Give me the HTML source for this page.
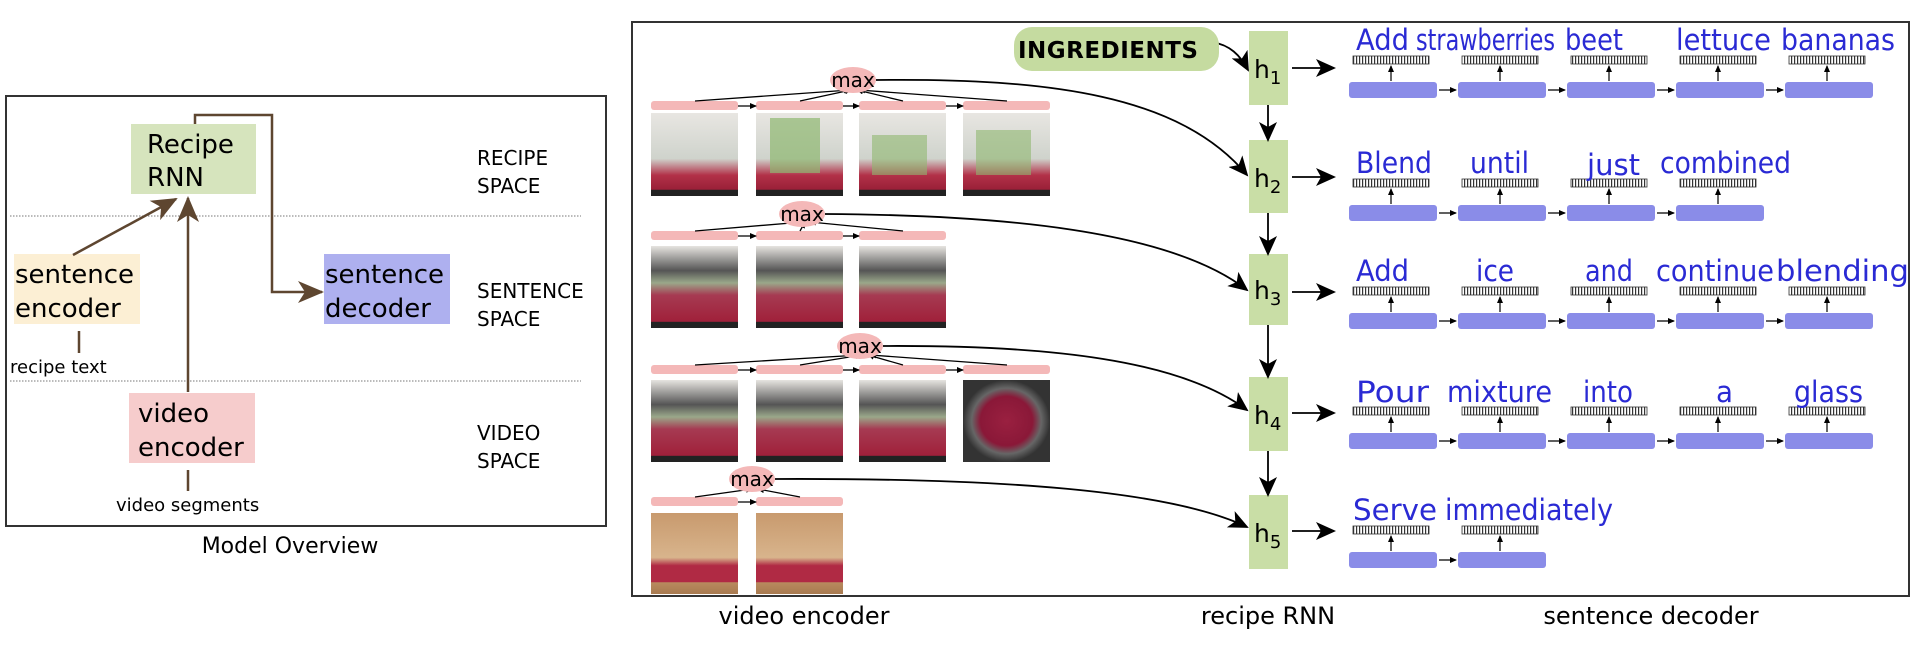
<!DOCTYPE html>
<html><head><meta charset="utf-8"><style>
html,body{margin:0;padding:0;background:#fff;}
svg{display:block;}
text{font-family:"DejaVu Sans","Liberation Sans",sans-serif;}
.w text{fill:#2a2ad4;font-size:29px;}
</style></head><body>
<svg width="1930" height="654" viewBox="0 0 1930 654" xmlns="http://www.w3.org/2000/svg">
<defs>
<pattern id="st" width="3" height="10" patternUnits="userSpaceOnUse"><rect width="3" height="10" fill="#fff"/><rect width="1.2" height="10" fill="#333"/></pattern>
<marker id="abs" markerWidth="7" markerHeight="6" refX="6" refY="3" orient="auto" markerUnits="userSpaceOnUse"><path d="M0,0 L7,3 L0,6z" fill="#000"/></marker>
<marker id="big" markerWidth="20" markerHeight="18" refX="18" refY="9" orient="auto" markerUnits="userSpaceOnUse"><path d="M0,0 L20,9 L0,18 L5,9z" fill="#000"/></marker>
<marker id="br" markerWidth="26" markerHeight="22" refX="24" refY="11" orient="auto" markerUnits="userSpaceOnUse"><path d="M0,0 L26,11 L0,22 L7,11z" fill="#5e4630"/></marker>
<linearGradient id="blend" x1="0" y1="0" x2="0" y2="1"><stop offset="0" stop-color="#e8e6e2"/><stop offset="0.55" stop-color="#cfd3cc"/><stop offset="0.75" stop-color="#b23148"/><stop offset="0.92" stop-color="#9a2038"/><stop offset="0.93" stop-color="#222"/><stop offset="1" stop-color="#222"/></linearGradient>
<linearGradient id="blend2" x1="0" y1="0" x2="0" y2="1"><stop offset="0" stop-color="#e6e4e0"/><stop offset="0.3" stop-color="#555"/><stop offset="0.45" stop-color="#9aa88a"/><stop offset="0.6" stop-color="#a63a52"/><stop offset="0.92" stop-color="#a0203a"/><stop offset="0.93" stop-color="#222"/><stop offset="1" stop-color="#222"/></linearGradient>
<linearGradient id="glass" x1="0" y1="0" x2="0" y2="1"><stop offset="0" stop-color="#c89a6e"/><stop offset="0.55" stop-color="#d8b48c"/><stop offset="0.65" stop-color="#b02a44"/><stop offset="0.85" stop-color="#b02a44"/><stop offset="0.86" stop-color="#b88a5e"/><stop offset="1" stop-color="#a87a50"/></linearGradient>
<radialGradient id="swirl"><stop offset="0" stop-color="#9a2040"/><stop offset="0.6" stop-color="#8a1838"/><stop offset="0.8" stop-color="#666"/><stop offset="1" stop-color="#333"/></radialGradient>
</defs>

<!-- LEFT PANEL -->
<rect x="6" y="96" width="600" height="430" fill="none" stroke="#333" stroke-width="2"/>
<line x1="10" y1="216" x2="581" y2="216" stroke="#777" stroke-width="1" stroke-dasharray="1.5,1.5"/>
<line x1="10" y1="381" x2="581" y2="381" stroke="#777" stroke-width="1" stroke-dasharray="1.5,1.5"/>
<rect x="131" y="124" width="125" height="70" fill="#d6e4bd"/>
<text x="147" y="153" font-size="26">Recipe</text>
<text x="147" y="186" font-size="26">RNN</text>
<rect x="14" y="254" width="126" height="70" fill="#fcefd4"/>
<text x="15" y="283" font-size="26">sentence</text>
<text x="15" y="317" font-size="26">encoder</text>
<rect x="324" y="254" width="126" height="70" fill="#aeb0ef"/>
<text x="325" y="283" font-size="26">sentence</text>
<text x="325" y="317" font-size="26">decoder</text>
<rect x="129" y="393" width="126" height="70" fill="#f6cccc"/>
<text x="138" y="422" font-size="26">video</text>
<text x="138" y="456" font-size="26">encoder</text>
<g font-size="20">
<text x="477" y="165">RECIPE</text><text x="477" y="193">SPACE</text>
<text x="477" y="298">SENTENCE</text><text x="477" y="326">SPACE</text>
<text x="477" y="440">VIDEO</text><text x="477" y="468">SPACE</text>
</g>
<line x1="79" y1="331" x2="79" y2="353" stroke="#5e4630" stroke-width="2.5"/>
<text x="10" y="373" font-size="18">recipe text</text>
<line x1="188" y1="470" x2="188" y2="491" stroke="#5e4630" stroke-width="2.5"/>
<text x="116" y="511" font-size="18">video segments</text>
<line x1="73" y1="255" x2="176" y2="199" stroke="#5e4630" stroke-width="2.5" marker-end="url(#br)"/>
<line x1="188" y1="392" x2="188" y2="198" stroke="#5e4630" stroke-width="2.5" marker-end="url(#br)"/>
<polyline points="195,124 195,115 272,115 272,292 322,292" fill="none" stroke="#5e4630" stroke-width="2.5" marker-end="url(#br)"/>
<text x="290" y="553" font-size="22" text-anchor="middle">Model Overview</text>

<!-- RIGHT PANEL -->
<rect x="632" y="22" width="1277" height="574" fill="none" stroke="#333" stroke-width="2"/>

<g>
<g fill="#f4b8b8">
<rect x="651" y="101" width="87" height="9" rx="3"/><rect x="756" y="101" width="87" height="9" rx="3"/><rect x="859" y="101" width="87" height="9" rx="3"/><rect x="963" y="101" width="87" height="9" rx="3"/>
<rect x="651" y="231" width="87" height="9" rx="3"/><rect x="756" y="231" width="87" height="9" rx="3"/><rect x="859" y="231" width="87" height="9" rx="3"/>
<rect x="651" y="365" width="87" height="9" rx="3"/><rect x="756" y="365" width="87" height="9" rx="3"/><rect x="859" y="365" width="87" height="9" rx="3"/><rect x="963" y="365" width="87" height="9" rx="3"/>
<rect x="651" y="497" width="87" height="9" rx="3"/><rect x="756" y="497" width="87" height="9" rx="3"/>
</g>
<rect x="651" y="113" width="87" height="83" fill="url(#blend)"/><rect x="756" y="113" width="87" height="83" fill="url(#blend)"/><rect x="859" y="113" width="87" height="83" fill="url(#blend)"/><rect x="963" y="113" width="87" height="83" fill="url(#blend)"/>
<rect x="770" y="118" width="50" height="55" fill="#8fb870" opacity="0.7"/><rect x="872" y="135" width="55" height="40" fill="#8fb870" opacity="0.6"/><rect x="976" y="130" width="55" height="45" fill="#8fb870" opacity="0.6"/>
<rect x="651" y="246" width="87" height="82" fill="url(#blend2)"/><rect x="756" y="246" width="87" height="82" fill="url(#blend2)"/><rect x="859" y="246" width="87" height="82" fill="url(#blend2)"/>
<rect x="651" y="380" width="87" height="82" fill="url(#blend2)"/><rect x="756" y="380" width="87" height="82" fill="url(#blend2)"/><rect x="859" y="380" width="87" height="82" fill="url(#blend2)"/>
<rect x="963" y="380" width="87" height="82" fill="url(#swirl)"/>
<rect x="651" y="513" width="87" height="81" fill="url(#glass)"/><rect x="756" y="513" width="87" height="81" fill="url(#glass)"/>
</g>

<g stroke="#000" stroke-width="1.3" fill="none">
<path d="M695,101 L850,90" marker-end="url(#abs)"/><path d="M800,101 L851,90" marker-end="url(#abs)"/><path d="M903,101 L857,90" marker-end="url(#abs)"/><path d="M1007,101 L859,90" marker-end="url(#abs)"/>
<path d="M738,106 L756,106" marker-end="url(#abs)"/><path d="M843,106 L859,106" marker-end="url(#abs)"/><path d="M946,106 L963,106" marker-end="url(#abs)"/>
<path d="M695,231 L803,222" marker-end="url(#abs)"/><path d="M800,231 L805,222" marker-end="url(#abs)"/><path d="M903,231 L810,222" marker-end="url(#abs)"/>
<path d="M738,236 L756,236" marker-end="url(#abs)"/><path d="M843,236 L859,236" marker-end="url(#abs)"/>
<path d="M695,365 L860,355" marker-end="url(#abs)"/><path d="M800,365 L862,355" marker-end="url(#abs)"/><path d="M903,365 L868,355" marker-end="url(#abs)"/><path d="M1007,365 L870,355" marker-end="url(#abs)"/>
<path d="M738,370 L756,370" marker-end="url(#abs)"/><path d="M843,370 L859,370" marker-end="url(#abs)"/><path d="M946,370 L963,370" marker-end="url(#abs)"/>
<path d="M695,497 L752,489" marker-end="url(#abs)"/><path d="M800,497 L758,489" marker-end="url(#abs)"/>
<path d="M738,502 L756,502" marker-end="url(#abs)"/>
</g>
<g fill="#f4b8b8">
<ellipse cx="853" cy="80" rx="23" ry="13"/><ellipse cx="802" cy="214" rx="23" ry="13"/><ellipse cx="860" cy="346" rx="23" ry="13"/><ellipse cx="752" cy="479" rx="23" ry="13"/>
</g>
<g font-size="20" text-anchor="middle">
<text x="853" y="87">max</text><text x="802" y="221">max</text><text x="860" y="353">max</text><text x="752" y="486">max</text>
</g>
<g stroke="#000" stroke-width="1.8" fill="none">
<path d="M876,80 C1050,78 1180,95 1247,175" marker-end="url(#big)"/>
<path d="M825,214 C1000,215 1170,230 1247,290" marker-end="url(#big)"/>
<path d="M883,346 C1050,345 1180,360 1247,410" marker-end="url(#big)"/>
<path d="M775,479 C1000,478 1170,490 1247,527" marker-end="url(#big)"/>
<path d="M1212,42 C1230,45 1240,55 1248,70" marker-end="url(#big)"/>
</g>

<rect x="1014" y="27" width="205" height="44" rx="18" fill="#c5dba0"/>
<text x="1018" y="58" font-size="23" font-weight="bold" letter-spacing="0.5">INGREDIENTS</text>

<g fill="#c9dea6">
<rect x="1249" y="31" width="39" height="74"/><rect x="1249" y="140" width="39" height="73"/><rect x="1249" y="254" width="39" height="71"/><rect x="1249" y="377" width="39" height="74"/><rect x="1249" y="495" width="39" height="74"/>
</g>
<g font-size="25">
<text x="1254" y="78">h<tspan font-size="18" dy="6">1</tspan></text>
<text x="1254" y="187">h<tspan font-size="18" dy="6">2</tspan></text>
<text x="1254" y="299">h<tspan font-size="18" dy="6">3</tspan></text>
<text x="1254" y="424">h<tspan font-size="18" dy="6">4</tspan></text>
<text x="1254" y="542">h<tspan font-size="18" dy="6">5</tspan></text>
</g>
<g stroke="#000" stroke-width="1.8">
<line x1="1268" y1="105" x2="1268" y2="140" marker-end="url(#big)"/>
<line x1="1268" y1="213" x2="1268" y2="254" marker-end="url(#big)"/>
<line x1="1268" y1="325" x2="1268" y2="377" marker-end="url(#big)"/>
<line x1="1268" y1="451" x2="1268" y2="495" marker-end="url(#big)"/>
<line x1="1292" y1="68" x2="1334" y2="68" marker-end="url(#big)"/>
<line x1="1292" y1="177" x2="1334" y2="177" marker-end="url(#big)"/>
<line x1="1292" y1="292" x2="1334" y2="292" marker-end="url(#big)"/>
<line x1="1292" y1="413" x2="1334" y2="413" marker-end="url(#big)"/>
<line x1="1292" y1="531" x2="1334" y2="531" marker-end="url(#big)"/>
</g>

<g fill="#8a8ce8">
<rect x="1349" y="82" width="88" height="16" rx="3"/><rect x="1458" y="82" width="88" height="16" rx="3"/><rect x="1567" y="82" width="88" height="16" rx="3"/><rect x="1676" y="82" width="88" height="16" rx="3"/><rect x="1785" y="82" width="88" height="16" rx="3"/>
<rect x="1349" y="205" width="88" height="16" rx="3"/><rect x="1458" y="205" width="88" height="16" rx="3"/><rect x="1567" y="205" width="88" height="16" rx="3"/><rect x="1676" y="205" width="88" height="16" rx="3"/>
<rect x="1349" y="313" width="88" height="16" rx="3"/><rect x="1458" y="313" width="88" height="16" rx="3"/><rect x="1567" y="313" width="88" height="16" rx="3"/><rect x="1676" y="313" width="88" height="16" rx="3"/><rect x="1785" y="313" width="88" height="16" rx="3"/>
<rect x="1349" y="433" width="88" height="16" rx="3"/><rect x="1458" y="433" width="88" height="16" rx="3"/><rect x="1567" y="433" width="88" height="16" rx="3"/><rect x="1676" y="433" width="88" height="16" rx="3"/><rect x="1785" y="433" width="88" height="16" rx="3"/>
<rect x="1349" y="552" width="88" height="16" rx="3"/><rect x="1458" y="552" width="88" height="16" rx="3"/>
</g>
<g fill="url(#st)" stroke="#333" stroke-width="0.8">
<rect x="1353" y="56" width="76" height="8"/><rect x="1462" y="56" width="76" height="8"/><rect x="1571" y="56" width="76" height="8"/><rect x="1680" y="56" width="76" height="8"/><rect x="1789" y="56" width="76" height="8"/>
<rect x="1353" y="179" width="76" height="8"/><rect x="1462" y="179" width="76" height="8"/><rect x="1571" y="179" width="76" height="8"/><rect x="1680" y="179" width="76" height="8"/>
<rect x="1353" y="287" width="76" height="8"/><rect x="1462" y="287" width="76" height="8"/><rect x="1571" y="287" width="76" height="8"/><rect x="1680" y="287" width="76" height="8"/><rect x="1789" y="287" width="76" height="8"/>
<rect x="1353" y="407" width="76" height="8"/><rect x="1462" y="407" width="76" height="8"/><rect x="1571" y="407" width="76" height="8"/><rect x="1680" y="407" width="76" height="8"/><rect x="1789" y="407" width="76" height="8"/>
<rect x="1353" y="526" width="76" height="8"/><rect x="1462" y="526" width="76" height="8"/>
</g>
<g stroke="#000" stroke-width="1.2">
<line x1="1391" y1="81" x2="1391" y2="66" marker-end="url(#abs)"/><line x1="1500" y1="81" x2="1500" y2="66" marker-end="url(#abs)"/><line x1="1609" y1="81" x2="1609" y2="66" marker-end="url(#abs)"/><line x1="1718" y1="81" x2="1718" y2="66" marker-end="url(#abs)"/><line x1="1827" y1="81" x2="1827" y2="66" marker-end="url(#abs)"/>
<line x1="1391" y1="204" x2="1391" y2="189" marker-end="url(#abs)"/><line x1="1500" y1="204" x2="1500" y2="189" marker-end="url(#abs)"/><line x1="1609" y1="204" x2="1609" y2="189" marker-end="url(#abs)"/><line x1="1718" y1="204" x2="1718" y2="189" marker-end="url(#abs)"/>
<line x1="1391" y1="312" x2="1391" y2="297" marker-end="url(#abs)"/><line x1="1500" y1="312" x2="1500" y2="297" marker-end="url(#abs)"/><line x1="1609" y1="312" x2="1609" y2="297" marker-end="url(#abs)"/><line x1="1718" y1="312" x2="1718" y2="297" marker-end="url(#abs)"/><line x1="1827" y1="312" x2="1827" y2="297" marker-end="url(#abs)"/>
<line x1="1391" y1="432" x2="1391" y2="417" marker-end="url(#abs)"/><line x1="1500" y1="432" x2="1500" y2="417" marker-end="url(#abs)"/><line x1="1609" y1="432" x2="1609" y2="417" marker-end="url(#abs)"/><line x1="1718" y1="432" x2="1718" y2="417" marker-end="url(#abs)"/><line x1="1827" y1="432" x2="1827" y2="417" marker-end="url(#abs)"/>
<line x1="1391" y1="551" x2="1391" y2="536" marker-end="url(#abs)"/><line x1="1500" y1="551" x2="1500" y2="536" marker-end="url(#abs)"/>
<line x1="1439" y1="90" x2="1456" y2="90" marker-end="url(#abs)"/><line x1="1548" y1="90" x2="1565" y2="90" marker-end="url(#abs)"/><line x1="1657" y1="90" x2="1674" y2="90" marker-end="url(#abs)"/><line x1="1766" y1="90" x2="1783" y2="90" marker-end="url(#abs)"/>
<line x1="1439" y1="213" x2="1456" y2="213" marker-end="url(#abs)"/><line x1="1548" y1="213" x2="1565" y2="213" marker-end="url(#abs)"/><line x1="1657" y1="213" x2="1674" y2="213" marker-end="url(#abs)"/>
<line x1="1439" y1="321" x2="1456" y2="321" marker-end="url(#abs)"/><line x1="1548" y1="321" x2="1565" y2="321" marker-end="url(#abs)"/><line x1="1657" y1="321" x2="1674" y2="321" marker-end="url(#abs)"/><line x1="1766" y1="321" x2="1783" y2="321" marker-end="url(#abs)"/>
<line x1="1439" y1="441" x2="1456" y2="441" marker-end="url(#abs)"/><line x1="1548" y1="441" x2="1565" y2="441" marker-end="url(#abs)"/><line x1="1657" y1="441" x2="1674" y2="441" marker-end="url(#abs)"/><line x1="1766" y1="441" x2="1783" y2="441" marker-end="url(#abs)"/>
<line x1="1439" y1="560" x2="1456" y2="560" marker-end="url(#abs)"/>
</g>
<g class="w">
<text x="1356" y="50" textLength="53" lengthAdjust="spacingAndGlyphs">Add</text>
<text x="1416" y="50" textLength="139" lengthAdjust="spacingAndGlyphs">strawberries</text>
<text x="1565" y="50" textLength="58" lengthAdjust="spacingAndGlyphs">beet</text>
<text x="1676" y="50" textLength="95" lengthAdjust="spacingAndGlyphs">lettuce</text>
<text x="1781" y="50" textLength="114" lengthAdjust="spacingAndGlyphs">bananas</text>
<text x="1356" y="173" textLength="76" lengthAdjust="spacingAndGlyphs">Blend</text>
<text x="1470" y="173" textLength="59" lengthAdjust="spacingAndGlyphs">until</text>
<text x="1587" y="175" textLength="53" lengthAdjust="spacingAndGlyphs">just</text>
<text x="1660" y="173" textLength="131" lengthAdjust="spacingAndGlyphs">combined</text>
<text x="1356" y="281" textLength="53" lengthAdjust="spacingAndGlyphs">Add</text>
<text x="1476" y="281" textLength="38" lengthAdjust="spacingAndGlyphs">ice</text>
<text x="1585" y="281" textLength="48" lengthAdjust="spacingAndGlyphs">and</text>
<text x="1656" y="281" textLength="118" lengthAdjust="spacingAndGlyphs">continue</text>
<text x="1776" y="281" textLength="133" lengthAdjust="spacingAndGlyphs">blending</text>
<text x="1356" y="402" textLength="73" lengthAdjust="spacingAndGlyphs">Pour</text>
<text x="1447" y="402" textLength="105" lengthAdjust="spacingAndGlyphs">mixture</text>
<text x="1583" y="402" textLength="50" lengthAdjust="spacingAndGlyphs">into</text>
<text x="1716" y="402" textLength="17" lengthAdjust="spacingAndGlyphs">a</text>
<text x="1794" y="402" textLength="69" lengthAdjust="spacingAndGlyphs">glass</text>
<text x="1353" y="520" textLength="84" lengthAdjust="spacingAndGlyphs">Serve</text>
<text x="1445" y="520" textLength="168" lengthAdjust="spacingAndGlyphs">immediately</text>
</g>

<g font-size="24" text-anchor="middle">
<text x="804" y="624">video encoder</text>
<text x="1268" y="624">recipe RNN</text>
<text x="1651" y="624">sentence decoder</text>
</g>
</svg>
</body></html>
